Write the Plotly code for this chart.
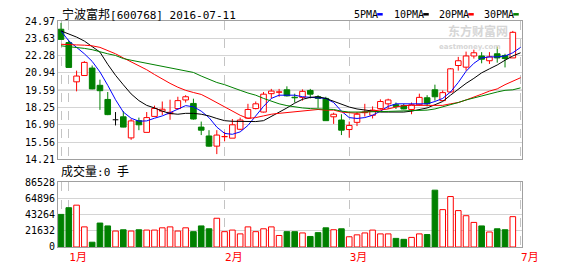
import plotly.graph_objects as go

# ---------------- data ----------------
slots = list(range(1, 61))

open_ = [24.33, 23.29, 20.24, 20.73, 21.31, 19.97, 18.87, 17.29, 17.52, 15.88,
         17.22, 16.31, 17.55, 17.96, 17.76, 18.16, 18.83, 18.56, 16.72, 16.03,
         15.24, 15.97, 15.86, 16.55, 17.42, 18.16, 17.89, 19.32, 19.43, 19.62,
         19.04, 19.03, 19.57, 19.08, 18.95, 17.52, 17.27, 16.53, 17.09, 17.84,
         17.64, 18.16, 18.53, 18.46, 18.39, 18.09, 18.46, 19.00, 19.62, 18.78,
         19.45, 21.51, 21.38, 22.25, 22.25, 21.88, 22.42, 22.29, 22.10, None]
high = [24.82, 23.46, 21.11, 21.85, 21.51, 20.41, 19.45, 17.89, 17.96, 17.35,
        17.46, 17.89, 18.39, 18.71, 18.85, 19.08, 19.20, 18.93, 17.15, 16.48,
        16.48, 16.35, 17.35, 17.46, 18.53, 18.71, 19.45, 19.69, 19.69, 19.89,
        19.32, 19.65, 19.69, 19.20, 19.08, 17.84, 17.72, 17.15, 17.89, 18.53,
        18.33, 18.88, 18.93, 18.63, 18.52, 18.63, 19.32, 19.20, 20.02, 19.57,
        21.31, 22.18, 22.59, 22.74, 22.55, 22.55, 22.99, 22.42, 24.20, None]
low = [23.54, 21.36, 19.50, 20.70, 19.66, 18.06, 17.65, 16.85, 16.70, 15.73,
       16.48, 16.30, 17.55, 17.66, 17.29, 18.10, 18.63, 17.30, 16.10, 15.20,
       14.62, 15.61, 15.85, 16.48, 17.42, 18.10, 17.85, 18.95, 19.08, 19.10,
       18.63, 18.78, 18.95, 18.21, 17.20, 16.97, 16.10, 15.90, 16.80, 17.54,
       17.39, 18.10, 18.13, 18.13, 18.10, 17.72, 18.40, 18.33, 18.78, 18.75,
       19.40, 21.11, 21.11, 22.05, 21.68, 21.63, 21.73, 21.36, 22.10, None]
close = [23.54, 21.36, 20.69, 21.75, 19.69, 19.55, 17.69, 17.29, 16.72, 17.20,
         16.90, 17.46, 18.17, 18.11, 17.87, 18.78, 19.08, 17.35, 16.48, 15.24,
         16.10, 15.99, 16.90, 17.27, 18.09, 18.53, 19.28, 19.52, 19.46, 19.15,
         19.00, 19.50, 19.28, 18.95, 17.22, 17.72, 16.48, 16.85, 17.72, 17.89,
         18.04, 18.71, 18.83, 18.33, 18.13, 18.46, 19.03, 18.53, 19.08, 19.40,
         21.25, 21.88, 22.25, 22.50, 22.00, 22.18, 22.10, 22.05, 24.09, None]
volume = [43480, 52430, 55840, 26850, 6400, 31970, 28130, 21300, 23000, 21300,
          23000, 22600, 22600, 25600, 26850, 21300, 25600, 20460, 28130, 24300,
          38360, 20460, 22600, 17500, 26850, 20460, 24300, 26850, 15350, 20460,
          20460, 18750, 14070, 19180, 25570, 23020, 24300, 13640, 16200, 18750,
          22590, 17480, 17480, 11500, 10230, 12790, 17480, 16620, 75870, 49870,
          67350, 48590, 41770, 32820, 28130, 20030, 24300, 23020, 40490, 0]

ma5 = [24.20, 23.42, 22.92, 22.42, 21.83, 21.01, 19.97, 18.85, 17.89, 17.41,
       17.18, 17.20, 17.41, 17.59, 17.84, 18.09, 18.39, 18.30, 17.96, 17.46,
       16.72, 16.23, 16.16, 16.35, 16.85, 17.59, 18.33, 18.95, 19.20, 19.20,
       19.20, 19.08, 19.03, 19.03, 18.95, 18.63, 17.96, 17.46, 17.39, 17.46,
       17.64, 17.96, 18.33, 18.53, 18.53, 18.53, 18.53, 18.53, 18.71, 18.95,
       19.45, 20.19, 21.06, 21.68, 22.10, 22.18, 22.18, 22.25, 22.50, 22.92]
ma10 = [24.20, 23.98, 23.72, 23.41, 22.98, 22.55, 21.60, 20.75, 20.01, 19.30,
        18.78, 18.41, 18.21, 17.96, 17.78, 17.72, 17.79, 17.79, 17.72, 17.59,
        17.39, 17.22, 17.17, 17.15, 17.15, 17.15, 17.22, 17.54, 17.89, 18.21,
        18.58, 18.88, 19.03, 19.08, 18.95, 18.71, 18.46, 18.28, 18.13, 18.04,
        17.96, 17.89, 17.89, 17.89, 17.89, 17.96, 18.09, 18.21, 18.46, 18.71,
        19.20, 19.69, 20.12, 20.51, 20.94, 21.25, 21.55, 21.92, 22.25, 22.50]
ma20 = [23.16, 23.16, 23.11, 23.09, 23.04, 22.92, 22.67, 22.42, 22.10, 21.80,
        21.51, 21.18, 20.81, 20.44, 20.12, 19.82, 19.58, 19.41, 19.26, 18.95,
        18.63, 18.28, 17.96, 17.64, 17.39, 17.46, 17.59, 17.72, 17.79, 17.84,
        17.89, 17.96, 18.04, 18.09, 18.04, 18.04, 17.89, 17.84, 17.79, 17.89,
        17.96, 18.04, 18.13, 18.28, 18.39, 18.41, 18.41, 18.41, 18.39, 18.41,
        18.53, 18.63, 18.83, 19.03, 19.28, 19.52, 19.69, 20.02, 20.27, 20.56]
ma30 = [23.04, 22.99, 22.92, 22.84, 22.74, 22.55, 22.42, 22.29, 22.05, 21.92,
        21.80, 21.68, 21.55, 21.43, 21.31, 21.18, 21.11, 20.97, 20.69, 20.44,
        20.19, 20.02, 19.77, 19.58, 19.37, 19.20, 18.95, 18.71, 18.53, 18.39,
        18.28, 18.21, 18.16, 18.13, 18.13, 18.09, 17.96, 17.89, 17.89, 17.89,
        17.89, 17.89, 17.94, 17.96, 17.99, 18.01, 18.04, 18.04, 18.13, 18.28,
        18.46, 18.63, 18.83, 19.00, 19.15, 19.32, 19.45, 19.58, 19.62, 19.77]

price_tick_labels = ["14.21", "15.56", "16.90", "18.25", "19.59", "20.94", "22.28", "23.63", "24.97"]
volume_tick_labels = ["0", "21632", "43264", "64896", "86528"]
month_slots = [1, 2, 22, 38, 60]
month_labels = ["", "1月", "2月", "3月", "7月"]
stock_name = "宁波富邦"
stock_code = "[600768]"
chart_date = "2016-07-11"
volume_today = 0
ma_names = ["5PMA", "10PMA", "20PMA", "30PMA"]

# ---------------- styles ----------------
RED = "#ff0000"
GREEN = "#008000"
BLUE = "#0000ff"
BLACK = "#000000"
ma_colors = [BLUE, BLACK, RED, GREEN]
FONT = "DejaVu Sans Mono, Noto Sans CJK SC"
BORDER = "#a0a0a0"
GRID = "#d4d4d4"
W, H = 578, 276
ML, MR, MT, MB = 58, 56, 21, 19
PW, PH = W - ML - MR, H - MT - MB


def px_x(p):
    return (p - ML) / PW


def px_y(p):
    return (H - MB - p) / PH


BW = 0.72  # body width in slot units

fig = go.Figure()

# candle bodies and wicks
up_x, up_b, up_h = [], [], []
dn_x, dn_b, dn_h = [], [], []
wick = {RED: ([], []), GREEN: ([], []), BLACK: ([], [])}
vol_fill, vol_line = [], []
for s, o, h, l, c, v in zip(slots, open_, high, low, close, volume):
    if o is None:
        vol_fill.append("rgba(0,0,0,0)")
        vol_line.append("rgba(0,0,0,0)")
        continue
    top, bot = max(o, c), min(o, c)
    if c > o:
        col = RED
        up_x.append(s); up_b.append(o); up_h.append(c - o)
    elif c < o:
        col = GREEN
        dn_x.append(s); dn_b.append(c); dn_h.append(o - c)
    else:
        col = BLACK
    wx, wy = wick[col]
    wx += [s, s, None, s, s, None]
    wy += [h, top, None, bot, l, None]
    if col == BLACK:
        wx += [s - BW / 2, s + BW / 2, None]
        wy += [o, o, None]
    if c >= o:
        vol_fill.append("#ffffff"); vol_line.append(RED)
    else:
        vol_fill.append(GREEN); vol_line.append(GREEN)

fig.add_trace(go.Bar(x=up_x, y=up_h, base=up_b, width=BW,
                     marker=dict(color="#ffffff", line=dict(color=RED, width=1)),
                     xaxis="x", yaxis="y", showlegend=False, hoverinfo="skip"))
fig.add_trace(go.Bar(x=dn_x, y=dn_h, base=dn_b, width=BW,
                     marker=dict(color=GREEN, line=dict(color=GREEN, width=1)),
                     xaxis="x", yaxis="y", showlegend=False, hoverinfo="skip"))
for col, (wx, wy) in wick.items():
    fig.add_trace(go.Scatter(x=wx, y=wy, mode="lines", line=dict(color=col, width=1),
                             xaxis="x", yaxis="y", showlegend=False, hoverinfo="skip"))

for name, vals, col in zip(ma_names, [ma5, ma10, ma20, ma30], ma_colors):
    fig.add_trace(go.Scatter(x=slots, y=vals, mode="lines", name=name,
                             line=dict(color=col, width=1),
                             xaxis="x", yaxis="y", showlegend=False, hoverinfo="skip"))

fig.add_trace(go.Bar(x=slots, y=volume, width=BW,
                     marker=dict(color=vol_fill, line=dict(color=vol_line, width=1)),
                     xaxis="x2", yaxis="y2", showlegend=False, hoverinfo="skip"))

xcommon = dict(range=[0.615, 60.18], tickvals=month_slots, showgrid=True,
               gridcolor="#c4c4c4", griddash="dash", gridwidth=1, zeroline=False,
               showline=True, mirror=True, linecolor=BORDER, linewidth=1, ticks="")

price_vals = [float(t) for t in price_tick_labels]
vol_vals = [float(t) for t in volume_tick_labels]

fig.update_layout(
    width=W, height=H, margin=dict(l=ML, r=MR, t=MT, b=MB),
    paper_bgcolor="#ffffff", plot_bgcolor="#ffffff",
    barmode="overlay", showlegend=False,
    font=dict(family=FONT, size=10, color="#000000"),
    xaxis=dict(anchor="y", domain=[0, 1], showticklabels=False, **xcommon),
    xaxis2=dict(anchor="y2", domain=[0, 1], matches="x", ticktext=month_labels,
                showticklabels=True, ticklabelposition="outside right",
                tickfont=dict(family=FONT, size=11, color=RED), **xcommon),
    yaxis=dict(anchor="x", domain=[px_y(165.5), 1], range=[price_vals[0], price_vals[-1]],
               tickvals=price_vals, ticktext=price_tick_labels,
               showgrid=True, gridcolor=GRID, zeroline=False, showline=True, mirror=True,
               linecolor=BORDER, ticks="", tickfont=dict(family=FONT, size=10, color="#000000")),
    yaxis2=dict(anchor="x2", domain=[0, px_y(189.3)], range=[vol_vals[0], vol_vals[-1]],
                tickvals=vol_vals, ticktext=volume_tick_labels,
                showgrid=True, gridcolor=GRID, zeroline=False, showline=True, mirror=True,
                linecolor=BORDER, ticks="", tickfont=dict(family=FONT, size=10, color="#000000")),
)

# darker middle line of price panel
fig.add_shape(type="line", xref="x domain", yref="y", x0=0, x1=1,
              y0=price_vals[4], y1=price_vals[4], line=dict(color=BORDER, width=1), layer="below")

# title
fig.add_annotation(xref="paper", yref="paper", x=px_x(60), y=px_y(14), xanchor="left", yanchor="middle",
                   showarrow=False, font=dict(family=FONT, size=11, color="#000000"),
                   text=f"<span style='font-size:12px'>{stock_name}</span>{stock_code} {chart_date}")
# volume caption
fig.add_annotation(xref="paper", yref="paper", x=px_x(59), y=px_y(178), xanchor="left", yanchor="middle",
                   showarrow=False, font=dict(family=FONT, size=11, color="#000000"),
                   text=f"<span style='font-size:12px'>成交量</span>:{volume_today} <span style='font-size:12px'>手</span>")

# legend
starts = [352, 392, 437, 482]
for name, col, st in zip(ma_names, ma_colors, starts):
    fig.add_annotation(xref="paper", yref="paper", x=px_x(st), y=px_y(14), xanchor="left",
                       yanchor="middle", showarrow=False, text=name,
                       font=dict(family=FONT, size=10, color="#000000"))
    x0 = st + len(name) * 6.05 + 1
    fig.add_shape(type="rect", xref="paper", yref="paper", x0=px_x(x0), x1=px_x(x0 + 5.5),
                  y0=px_y(15.3), y1=px_y(12.7), line=dict(width=0), fillcolor=col)

# watermark
fig.add_annotation(xref="paper", yref="paper", x=px_x(478), y=px_y(31), xanchor="center", yanchor="middle",
                   showarrow=False, text="<b>东方财富网</b>",
                   font=dict(family="Noto Sans CJK SC", size=12, color="#d6d6d6"))
fig.add_annotation(xref="paper", yref="paper", x=px_x(470), y=px_y(48), xanchor="center", yanchor="middle",
                   showarrow=False, text="<b>eastmoney.com</b>",
                   font=dict(family="DejaVu Sans", size=7, color="#d6d6d6"))

fig.write_html("out.html")
